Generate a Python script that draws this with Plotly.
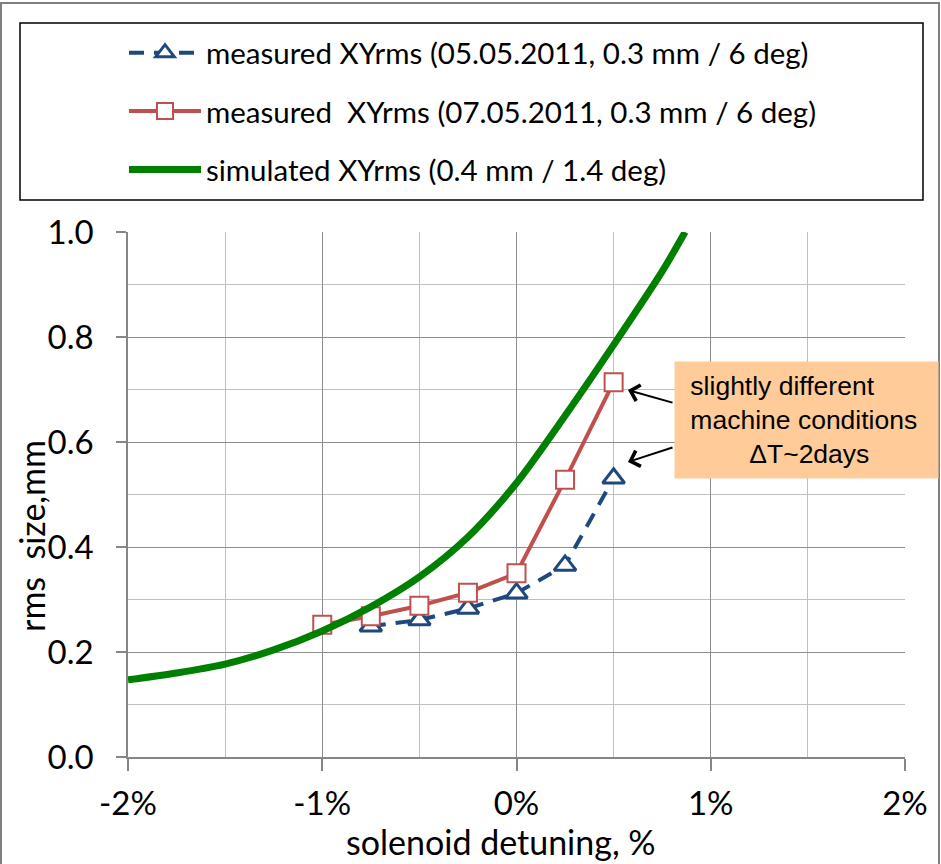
import plotly.graph_objects as go

# ---- data ----
det_meas = [-0.75, -0.5, -0.25, 0.0, 0.25, 0.5]
xy_0505 = [0.249, 0.261, 0.283, 0.312, 0.365, 0.531]

det_meas2 = [-1.0, -0.75, -0.5, -0.25, 0.0, 0.25, 0.5]
xy_0705 = [0.252, 0.268, 0.288, 0.313, 0.350, 0.528, 0.714]

det_sim = [-2.0, -1.75, -1.5, -1.25, -1.0, -0.75, -0.5, -0.25, 0.0, 0.25, 0.5, 0.75, 0.868]
xy_sim = [0.147, 0.160, 0.177, 0.204, 0.240, 0.286, 0.343, 0.419, 0.522, 0.650, 0.785, 0.925, 1.0]

x_ticks = [-2, -1, 0, 1, 2]
x_tick_text = ["-2%", "-1%", "0%", "1%", "2%"]
y_ticks = [0.0, 0.2, 0.4, 0.6, 0.8, 1.0]

names = ["measured XYrms (05.05.2011, 0.3 mm / 6 deg)",
         "measured  XYrms (07.05.2011, 0.3 mm / 6 deg)",
         "simulated XYrms (0.4 mm / 1.4 deg)"]

BLUE = "#1F497D"
RED = "#C0504D"
GREEN = "#008000"
FONT = "Lato, Carlito, Calibri, sans-serif"

fig = go.Figure()
fig.add_trace(go.Scatter(
    x=det_meas, y=xy_0505, name=names[0], mode="lines+markers",
    line=dict(color=BLUE, width=4, dash="15px,10px"),
    marker=dict(symbol="triangle-up", size=19, color="white",
                line=dict(color=BLUE, width=3)),
    legendgroup="a"))
fig.add_trace(go.Scatter(
    x=det_meas2, y=xy_0705, name=names[1], mode="lines+markers",
    line=dict(color=RED, width=4),
    marker=dict(symbol="square", size=18, color="white",
                line=dict(color=RED, width=2)),
    legendgroup="b"))
fig.add_trace(go.Scatter(
    x=det_sim, y=xy_sim, name=names[2], mode="lines",
    line=dict(color=GREEN, width=7, shape="spline", smoothing=0.8),
    legendgroup="c"))

W, H = 941, 864
L, R, T, B = 128, 36, 232, 107
pw, ph = W - L - R, H - T - B


def px(xp):
    return (xp - L) / pw


def py(yp):
    return (H - B - yp) / ph


fig.update_layout(
    width=W, height=H,
    margin=dict(l=L, r=R, t=T, b=B),
    paper_bgcolor="white", plot_bgcolor="white",
    font=dict(family=FONT, color="black"),
    showlegend=True,
    legend=dict(
        x=px(124), y=py(27), xanchor="left", yanchor="top",
        bgcolor="rgba(0,0,0,0)", borderwidth=0,
        font=dict(family=FONT, size=29.5, color="black"),
        itemwidth=72, traceorder="grouped", tracegroupgap=17,
    ),
    xaxis=dict(
        range=[-2, 2], tickvals=x_ticks, ticktext=x_tick_text,
        showgrid=True, gridcolor="#8C8C8C", gridwidth=1,
        minor=dict(dtick=0.5, showgrid=True, gridcolor="#BFBFBF", gridwidth=1),
        showline=True, linecolor="#868686", linewidth=1.5,
        ticks="outside", ticklen=12, tickcolor="#868686", tickwidth=1.5,
        tickfont=dict(family=FONT, size=33), ticklabelstandoff=5,
        zeroline=False,
    ),
    yaxis=dict(
        range=[0, 1], tickvals=y_ticks, tickformat=".1f",
        showgrid=True, gridcolor="#8C8C8C", gridwidth=1,
        minor=dict(dtick=0.1, showgrid=True, gridcolor="#BFBFBF", gridwidth=1),
        showline=True, linecolor="#868686", linewidth=1.5,
        ticks="outside", ticklen=10, tickcolor="#868686", tickwidth=1.5,
        tickfont=dict(family=FONT, size=33), ticklabelstandoff=16,
        zeroline=False,
    ),
)

# outer chart border and legend frame
fig.add_shape(type="rect", xref="paper", yref="paper",
              x0=px(1), x1=px(939), y0=py(880), y1=py(3),
              line=dict(color="#7F7F7F", width=2), layer="below")
fig.add_shape(type="rect", xref="paper", yref="paper",
              x0=px(20), x1=px(923), y0=py(200), y1=py(23),
              line=dict(color="black", width=1.5), layer="below")

# axis titles
fig.add_annotation(text="solenoid detuning, %", xref="paper", yref="paper",
                   x=px(501), y=py(841), xanchor="center", yanchor="middle",
                   showarrow=False, font=dict(family=FONT, size=34))
fig.add_annotation(text="rms  size,mm", xref="paper", yref="paper",
                   x=px(31), y=py(536), xanchor="center", yanchor="middle",
                   showarrow=False, textangle=-90,
                   font=dict(family=FONT, size=34))

# callout box and arrows
fig.add_annotation(
    text="\u00a0slightly different<br>\u00a0machine conditions<br>" + "\u00a0" * 9 + "\u0394T~2days",
    xref="paper", yref="paper", x=px(674), y=py(361),
    xanchor="left", yanchor="top", align="left", showarrow=False,
    width=247, height=100, bgcolor="#FFCC99", borderpad=8,
    font=dict(family="Liberation Sans, Arial, sans-serif", size=26.5, color="black"))
fig.add_annotation(x=0.574, y=0.699, xref="x", yref="y", ax=46, ay=13,
                   text="", showarrow=True, arrowhead=4, arrowsize=1.6,
                   arrowwidth=2, arrowcolor="black")
fig.add_annotation(x=0.574, y=0.562, xref="x", yref="y", ax=46, ay=-15,
                   text="", showarrow=True, arrowhead=4, arrowsize=1.6,
                   arrowwidth=2, arrowcolor="black")

fig.write_html("out.html")
